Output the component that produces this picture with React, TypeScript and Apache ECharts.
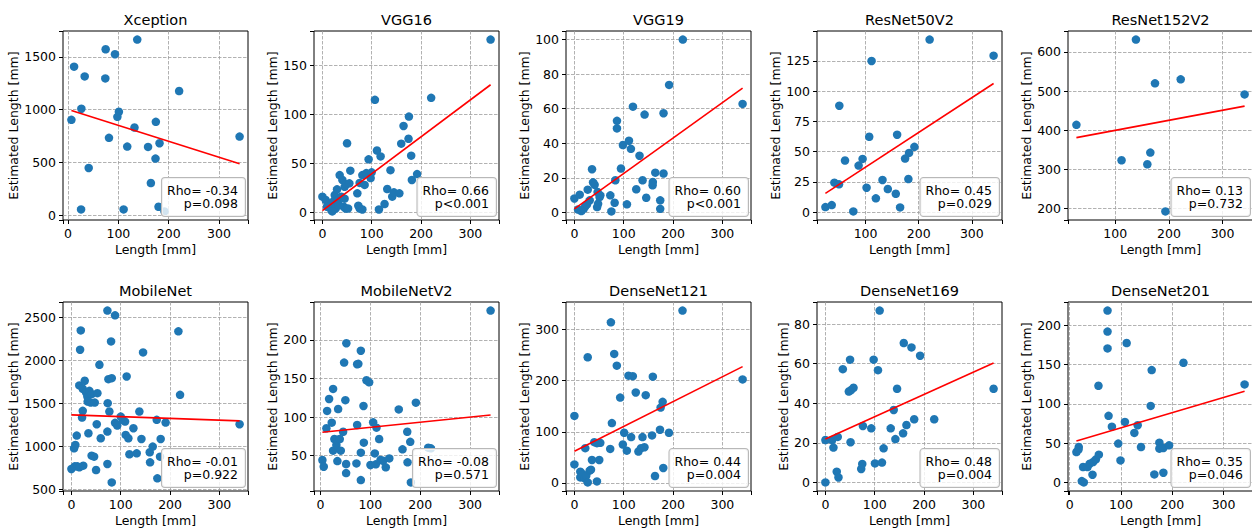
import React, { useEffect, useRef } from 'react';
import * as echarts from 'echarts';

const FONT = 'DejaVu Sans';

const modelNames = ['Xception', 'VGG16', 'VGG19', 'ResNet50V2', 'ResNet152V2', 'MobileNet', 'MobileNetV2', 'DenseNet121', 'DenseNet169', 'DenseNet201'];
const rhoTexts = ['Rho= -0.34', 'Rho= 0.66', 'Rho= 0.60', 'Rho= 0.45', 'Rho= 0.13', 'Rho= -0.01', 'Rho= -0.08', 'Rho= 0.44', 'Rho= 0.48', 'Rho= 0.35'];
const pTexts = ['p=0.098', 'p<0.001', 'p<0.001', 'p=0.029', 'p=0.732', 'p=0.922', 'p=0.571', 'p=0.004', 'p=0.004', 'p=0.046'];

const xceptionLength = [6.6, 11.9, 26.4, 33, 25.8, 41, 74.7, 74, 93.2, 81.3, 101, 98, 110.4, 117.6, 132, 137.5, 159, 174.5, 181.8, 173.8, 164.6, 179.8, 191.7, 220.8, 341];
const xceptionEstimated = [904, 1408, 1009, 1316, 54, 447, 1573, 1297, 1526, 733, 980, 932, 54, 650, 831, 1665, 647, 885, 682, 536, 304, 79, 35, 1177, 745];

const vgg16Length = [0, 6.7, 13.5, 18, 9.4, 21.6, 25, 29.7, 35, 40.5, 45, 48.5, 54.6, 56.6, 50, 31.7, 38.4, 43, 47, 52, 27, 33.7, 45, 20, 70.8, 72.8, 75.5, 81, 75.5, 81, 85.6, 89, 93.7, 97.8, 99.8, 106.5, 110.6, 118, 114.6, 126, 131.5, 138, 141.6, 145, 156, 159.8, 164.5, 174.6, 175.4, 180, 181.4, 192, 220.5, 341];
const vgg16Estimated = [16, 12.6, 8.5, 2.4, 5.8, 10.9, 17.7, 23.5, 38, 33, 26, 28.6, 29.6, 42.5, 70.4, 12.6, 16, 5.8, 4, 4, 4, 7.5, 14, 1, 19.4, 6.8, 4, 3, 30, 38, 28, 40, 54, 35, 40.8, 114.6, 63, 57, 3, 8.5, 23.8, 43, 16, 20.4, 19.4, 70, 88, 75, 97.6, 57.8, 33, 39, 116.7, 176];

const vgg19Length = [0, 10.8, 7.4, 14, 18.9, 22, 27, 25.6, 31, 35.7, 37.8, 41, 47, 51, 46, 48, 52.6, 72.8, 75, 81.6, 83, 86.3, 86.3, 94.4, 98.4, 106.5, 110.6, 114.6, 118.7, 125.4, 132, 138.2, 142.3, 145.6, 158.5, 159, 164, 174, 174, 180.7, 180.7, 192, 219.8, 341];
const vgg19Estimated = [8.1, 10.3, 1.7, 0.8, 2.1, 3.5, 13.2, 4.7, 7, 25, 17.4, 16, 11.8, 8.9, 3.1, 5, 9.9, 9.9, 0.6, 5.6, 18.6, 53, 48.6, 25.4, 39, 4.7, 41.5, 36.8, 61.2, 13.4, 32.8, 18.6, 56.6, 8.5, 15.7, 17.6, 23, 7, 2.1, 57.4, 22.5, 73.8, 100, 62.8];

const resnet50Length = [24.4, 36.3, 41.3, 50, 50.6, 61.3, 76.9, 86.9, 94.4, 101.9, 106.9, 111.3, 119.4, 131.9, 141.9, 156.9, 159.4, 165, 174.4, 180.6, 181.9, 191.9, 220.6, 341];
const resnet50Estimated = [4.2, 5.8, 24.4, 23, 88, 42.7, 0.6, 38.5, 44, 20.2, 62.3, 125, 11.4, 26.6, 19.1, 15.2, 64, 3.9, 44.3, 27.4, 49, 54, 142.7, 129.4];

const resnet152Length = [27.7, 111.8, 138.6, 159.8, 165.4, 174.1, 193.5, 222, 341];
const resnet152Estimated = [413.7, 323, 631.6, 312.8, 342.7, 519.7, 192.3, 530, 491.5];

const mobilenetLength = [0, 6.8, 12, 16, 24, 5.4, 8, 10.8, 17.6, 19, 16, 23, 21.6, 27, 23, 29.7, 32.4, 36.5, 41, 33, 39, 47.3, 34.5, 41, 46, 50, 52.7, 51.4, 56.8, 59.5, 73, 88.5, 80.4, 75, 81.8, 73.6, 77, 73, 73, 81.8, 88.5, 93, 100, 104, 108.8, 110, 115.5, 112, 117.6, 125.7, 132.4, 137.8, 142, 145.3, 158.8, 159.5, 164.9, 173, 174.3, 179.7, 181, 191, 216.9, 220.3, 341];
const mobilenetEstimated = [741, 772, 772, 760, 780, 981, 1020, 1129, 2127, 2352, 1712, 1417, 1339, 1766, 1673, 1630, 1583, 1649, 1611, 1525, 1513, 1513, 1156, 896, 884, 729, 1622, 1261, 1952, 1098, 2582, 2527, 2224, 1785, 1797, 1506, 1409, 1176, 799, 585, 1277, 1246, 1350, 1312, 1292, 1137, 1098, 1816, 912, 1215, 923, 1409, 1090, 2096, 935, 818, 1001, 1312, 632, 884, 1090, 1281, 2341, 1603, 1261];

const mobilenetV2Length = [4, 6.7, 12, 13.4, 17.4, 22.7, 25.4, 28, 25.4, 32, 33.4, 34, 35.5, 38.8, 40.8, 45.5, 47.5, 50, 51.5, 52, 51.5, 72.2, 73.6, 73.6, 76, 81, 81, 81, 86.3, 87, 92.3, 97.7, 100.3, 105.7, 109, 112.4, 117.7, 111, 120.4, 125.8, 131, 138, 157, 164.5, 174, 174.6, 180, 181.3, 191.3, 216, 221.4, 341];
const mobilenetV2Estimated = [44.4, 35.7, 85.5, 108, 123.5, 92.8, 136.5, 71.6, 56.5, 63.8, 70.3, 43, 110.5, 71.6, 56.5, 81, 170.6, 122, 39.2, 195.7, 27.5, 40, 89.8, 168.5, 169, 186, 53.9, 18.4, 114.4, 66.9, 147.7, 145, 38, 93.2, 53, 86.3, 71.6, 38.8, 44.4, 43.5, 34.9, 46.5, 110, 58.2, 81, 41.4, 68, 15.4, 118.7, 60.4, 59.5, 238];

const densenet121Length = [0, 0, 12, 12, 16.8, 20.8, 22, 24, 27, 27, 31, 33.6, 35.6, 40.3, 45.7, 50.4, 52.5, 45.7, 72.6, 74, 76, 80.7, 86, 92.8, 98.2, 100.9, 106.3, 109.6, 115, 118.4, 124.4, 129.8, 135, 138, 142, 144.6, 157.4, 159, 163.4, 173.5, 174.8, 178.9, 180.2, 191.7, 219.2, 341];
const densenet121Estimated = [131, 36, 21.7, 10.5, 17, 8.6, 67.8, 13.8, 246, 0.7, 23.7, 25.7, 44.7, 79.6, 2.6, 44.7, 78.3, 77.6, 66.4, 314.5, 117, 252.6, 229.6, 167, 75, 98, 63, 210, 89.5, 209, 177, 61.2, 67.8, 89.5, 69.7, 171.7, 92.8, 208, 13.2, 104, 147.4, 158.6, 29, 98, 337.5, 202.6];

const densenet169Length = [0, 0, 13.6, 16.3, 25, 23, 26.5, 35.3, 47.5, 50, 51, 52.3, 57, 72.6, 74.7, 76, 93, 97.8, 100.5, 106.6, 110, 114.7, 118, 132.4, 138.5, 141.9, 145.3, 157.5, 158.9, 164.3, 174.5, 180, 192, 220.6, 341];
const densenet169Estimated = [0, 21.4, 21.4, 17.6, 23, 5.4, 2.5, 57.2, 45.9, 62, 20.3, 46.7, 47.8, 6.8, 9.3, 28.5, 27.3, 62, 9.6, 56.7, 86.8, 10, 17.2, 27.3, 36.6, 21.9, 47.3, 24.8, 70.4, 29, 68.2, 31.9, 64, 31.9, 47.3];

const densenet201Length = [13, 17.6, 17, 23.5, 27.4, 26, 34.6, 39, 44.4, 45.7, 51, 56.8, 56, 73.7, 73.7, 73.7, 75.7, 82.2, 94.6, 99, 107.6, 111, 126, 132.5, 139, 157.9, 159.8, 165, 174.8, 174.8, 182.6, 182.6, 193.7, 221.8, 341];
const densenet201Estimated = [38.7, 45, 41.7, 1.7, 0, 19.6, 19.6, 23.8, 9.8, 26, 29.4, 35.3, 123, 218.7, 192, 170.6, 84.7, 71, 49.4, 28, 77, 177.4, 63, 72.8, 45, 97.4, 143, 10.2, 50.6, 43, 43.8, 12.3, 47.2, 152.3, 124.7];

// regression line end points
const fitLengths = [[6.6, 341], [0, 341], [0, 341], [24.4, 341], [27.7, 341], [0, 341], [4, 341], [0, 341], [0, 341], [13, 341]];
const fitEstimates = [[993, 488], [1.7, 130], [2.1, 71.9], [15.5, 106.4], [381, 461.5], [1370, 1300], [80.3, 102.7], [61.8, 227.6], [21.9, 60.3], [52.8, 116]];

const xTickStep = 100;
const yTickSteps = [500, 50, 20, 25, 100, 500, 50, 100, 20, 50];

const allLengths = [xceptionLength, vgg16Length, vgg19Length, resnet50Length, resnet152Length, mobilenetLength, mobilenetV2Length, densenet121Length, densenet169Length, densenet201Length];
const allEstimates = [xceptionEstimated, vgg16Estimated, vgg19Estimated, resnet50Estimated, resnet152Estimated, mobilenetEstimated, mobilenetV2Estimated, densenet121Estimated, densenet169Estimated, densenet201Estimated];

// layout
const colLefts = [63, 314, 566, 817, 1068];
const rowTops = [31, 302];
const GW = 185;
const GH = 189;
const yNameGaps = [39, 30, 30.5, 30, 30, 38, 30, 30.5, 23.5, 31];

function makeFormatter(step: number) {
  return (v: number) => {
    const r = v / step;
    return Math.abs(r - Math.round(r)) < 1e-6 ? String(Math.round(v * 1000) / 1000) : '';
  };
}

const pad = (v: { min: number; max: number }) => 0.05 * (v.max - v.min);

export default function App() {
  const ref = useRef<HTMLDivElement>(null);
  useEffect(() => {
    document.body.style.margin = '0';
    const chart = echarts.init(ref.current!, null, { renderer: 'svg' });
    const grids: any[] = [];
    const xAxes: any[] = [];
    const yAxes: any[] = [];
    const series: any[] = [];
    const graphics: any[] = [];
    const titles: any[] = [];
    const splitLineStyle = { type: [3.5, 1.5], color: '#9e9e9e', width: 0.8 };
    const labelStyle = { color: '#000', fontSize: 12.5, fontFamily: FONT };

    modelNames.forEach((name, i) => {
      const left = colLefts[i % 5];
      const top = rowTops[Math.floor(i / 5)];
      grids.push({
        left, top, width: GW, height: GH,
        show: true, borderColor: '#000', borderWidth: 1, backgroundColor: 'transparent',
        containLabel: false, outerBoundsMode: 'none',
      });
      xAxes.push({
        type: 'value', gridIndex: i,
        min: (v: any) => v.min - pad(v),
        max: (v: any) => v.max + pad(v),
        minInterval: xTickStep, maxInterval: xTickStep,
        axisLine: { show: false, onZero: false },
        axisTick: { show: true, length: 4, lineStyle: { color: '#000', width: 1 } },
        axisLabel: { ...labelStyle, margin: 7, formatter: makeFormatter(xTickStep) },
        splitLine: { show: true, showMinLine: false, showMaxLine: false, lineStyle: splitLineStyle },
        name: 'Length [mm]', nameLocation: 'middle', nameGap: 23,
        nameTextStyle: { color: '#000', fontSize: 12.5, fontFamily: FONT },
      });
      yAxes.push({
        type: 'value', gridIndex: i,
        min: (v: any) => v.min - pad(v),
        max: (v: any) => v.max + pad(v),
        minInterval: yTickSteps[i], maxInterval: yTickSteps[i],
        axisLine: { show: false, onZero: false },
        axisTick: { show: true, length: 4, lineStyle: { color: '#000', width: 1 } },
        axisLabel: { ...labelStyle, margin: 7, formatter: makeFormatter(yTickSteps[i]) },
        splitLine: { show: true, showMinLine: false, showMaxLine: false, lineStyle: splitLineStyle },
        name: 'Estimated Length [mm]', nameLocation: 'middle', nameGap: yNameGaps[i],
        nameTextStyle: { color: '#000', fontSize: 12.5, fontFamily: FONT },
      });
      series.push({
        type: 'scatter', xAxisIndex: i, yAxisIndex: i,
        data: allLengths[i].map((x, k) => [x, allEstimates[i][k]]),
        symbolSize: 8.5,
        itemStyle: { color: '#1f77b4', opacity: 1 },
        silent: true,
      });
      series.push({
        type: 'line', xAxisIndex: i, yAxisIndex: i,
        data: fitLengths[i].map((x, k) => [x, fitEstimates[i][k]]),
        showSymbol: false, symbol: 'none',
        lineStyle: { color: '#ff0000', width: 1.6 },
        silent: true,
      });
      titles.push({
        text: name,
        left: left + GW / 2, top: top - 19, textAlign: 'center', padding: 0,
        textStyle: { fontSize: 14.5, fontWeight: 'normal', fontFamily: FONT, color: '#000', lineHeight: 16 },
      });
      graphics.push({
        type: 'text', x: left + GW - 3, y: top + GH - 4, z: 100,
        style: {
          text: rhoTexts[i] + '\n' + pTexts[i],
          fontSize: 12.5, fontFamily: FONT, lineHeight: 13, fill: '#000',
          align: 'right', verticalAlign: 'bottom',
          backgroundColor: 'rgba(255,255,255,0.8)', borderColor: '#b8b8b8', borderWidth: 1, borderRadius: 3,
          padding: [6, 7, 6, 5],
        },
      });
    });

    chart.setOption({
      animation: false,
      backgroundColor: '#fff',
      title: titles,
      grid: grids,
      xAxis: xAxes,
      yAxis: yAxes,
      series,
      graphic: graphics,
    });
    return () => chart.dispose();
  }, []);
  return <div ref={ref} style={{ width: 1252, height: 531 }} />;
}
